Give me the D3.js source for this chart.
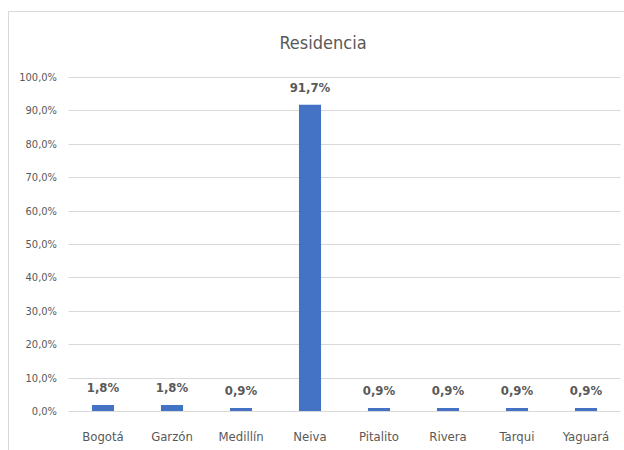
<!DOCTYPE html>
<html>
<head>
<meta charset="utf-8">
<script src="https://cdn.jsdelivr.net/npm/d3@7"></script>
<style>
body { margin: 0; background: #fff; }
text { font-family: "Liberation Sans Narrow", "DejaVu Sans Condensed", "Roboto", sans-serif; }
</style>
</head>
<body>
<div id="chart"></div>
<script>
width = 624
height = 450

let categories = ["Bogotá", "Garzón", "Medillín", "Neiva", "Pitalito", "Rivera", "Tarqui", "Yaguará"]
let values = [1.8, 1.8, 0.9, 91.7, 0.9, 0.9, 0.9, 0.9]
let yTicks = [0, 10, 20, 30, 40, 50, 60, 70, 80, 90, 100]

let fmt = v => v.toFixed(1).replace(".", ",") + "%"

let svg = d3.select("#chart")
.append("svg")
.attr("width", width)
.attr("height", height)

// chart border
svg.append("rect")
.attr("x", 8.5)
.attr("y", 11.5)
.attr("width", 800)
.attr("height", 800)
.attr("fill", "none")
.attr("stroke", "#d9d9d9")

svg.append("text")
.attr("x", 323)
.attr("y", 49)
.attr("text-anchor", "middle")
.attr("font-size", 18)
.attr("fill", "#595959")
.text("Residencia")

let x = d3.scaleBand()
.domain(categories)
.range([68.5, 620.5])
.paddingInner(0.68)
.paddingOuter(0.34)

let y = d3.scaleLinear()
.domain([0, 100])
.range([411, 77])

let grid = svg.append("g")
grid.selectAll("line")
.data(yTicks)
.join("line")
.attr("x1", 68.5)
.attr("x2", 620.5)
.attr("y1", d => Math.round(y(d)) + 0.5)
.attr("y2", d => Math.round(y(d)) + 0.5)
.attr("stroke", "#d9d9d9")

let yAxis = svg.append("g")
.attr("transform", "translate(57,0)")
.call(d3.axisLeft(y).tickValues(yTicks).tickFormat(fmt).tickSize(0).tickPadding(0))
yAxis.select(".domain").remove()
yAxis.selectAll("text")
.attr("font-size", 11)
.attr("fill", "#595959")
.style("font-family", "\"Liberation Sans Narrow\", \"DejaVu Sans Condensed\", sans-serif")

svg.append("g")
.selectAll("rect")
.data(values)
.join("rect")
.attr("x", (d, i) => x(categories[i]))
.attr("width", x.bandwidth())
.attr("y", d => y(d))
.attr("height", d => y(0) - y(d))
.attr("fill", "#4472C4")

svg.append("g")
.selectAll("text")
.data(values)
.join("text")
.attr("x", (d, i) => x(categories[i]) + x.bandwidth() / 2)
.attr("y", d => y(d) - 13)
.attr("text-anchor", "middle")
.attr("font-size", 13)
.attr("font-weight", "bold")
.attr("fill", "#595959")
.text(fmt)

let xAxis = svg.append("g")
.attr("transform", "translate(0,411)")
.call(d3.axisBottom(x).tickSize(0).tickPadding(0))
xAxis.select(".domain").remove()
xAxis.selectAll("text")
.attr("dy", 0)
.attr("y", 30)
.attr("font-size", 13)
.attr("fill", "#595959")
.style("font-family", "\"Liberation Sans Narrow\", \"DejaVu Sans Condensed\", sans-serif")
</script>
</body>
</html>
